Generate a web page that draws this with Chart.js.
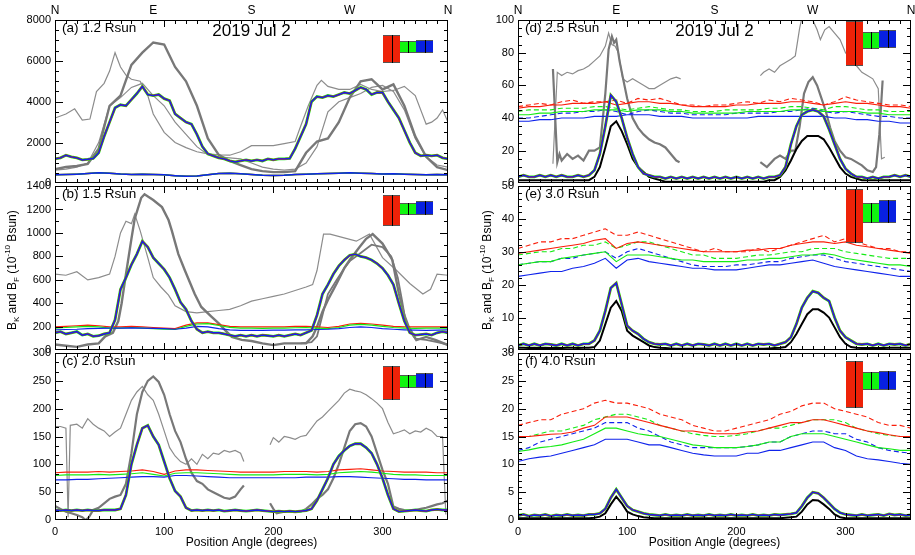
<!DOCTYPE html>
<html>
<head>
<meta charset="utf-8">
<script src="https://cdn.jsdelivr.net/npm/chart.js@4.4.1/dist/chart.umd.min.js"></script>
<style>
  body { margin: 0; background: #fff; width: 915px; height: 555px; position: relative; overflow: hidden; }
  canvas { position: absolute; }
</style>
</head>
<body>
<script>
// ---------- angle grids ----------
const SIG_ANG = Array.from({ length: 73 }, (_, i) => i * 5);
const BASE_ANG = Array.from({ length: 37 }, (_, i) => i * 10);
const COMPASS = ['N', 'E', 'S', 'W', 'N'];
const COMPASS_ANG = [0, 90, 180, 270, 360];
const DATE_LABEL = '2019 Jul 2';
const PANEL_LABELS = ['(a) 1.2 Rsun', '(b) 1.5 Rsun', '(c) 2.0 Rsun', '(d) 2.5 Rsun', '(e) 3.0 Rsun', '(f) 4.0 Rsun'];
const Y_MAX = [8000, 1400, 300, 100, 50, 30];
const Y_STEP = [2000, 200, 50, 20, 10, 5];

// ---------- (a) 1.2 Rsun ----------
const aSig = [1200,1250,1380,1300,1250,1150,1180,1220,1500,2300,3000,3700,3850,3800,4100,4400,4750,4350,4300,4350,
  4150,4050,3400,3200,3000,2900,2400,1800,1450,1350,1250,1200,1100,1050,1100,1150,1100,1150,1100,1200,
  1150,1200,1200,1220,1700,2300,2900,4000,4250,4200,4300,4250,4350,4450,4400,4550,4700,4600,4350,4450,
  4450,4000,3600,3200,2600,2000,1500,1350,1380,1350,1380,1250,1200];
const aBase = [420,430,450,480,520,500,460,440,450,430,420,380,350,360,420,480,500,470,430,400,
  390,400,430,450,470,480,500,520,500,480,460,470,450,430,420,430,420];
const aThick = [700,800,850,950,1700,3800,4300,5800,6400,6900,6800,5700,5000,3800,2200,1400,1100,900,700,600,
  550,550,600,1500,2050,2200,3000,4200,5000,5100,4600,4850,3800,2300,1300,800,650];
const aThinAAng = [0,10,18,25,32,38,45,50,55,60,65,70,78,85,90,100,110,120,130,140,150,160,170,180,190,200,210,220,225,232,
  240,244,250,260,270,280,290,300,310,320,330,340,345,350,355,360];
const aThinA = [3200,3400,3650,3100,3150,4500,4900,5500,6400,5700,5300,5100,5000,4300,3400,2500,2000,1750,1550,1450,
  1400,1380,1550,1850,1850,1850,1950,2050,2800,3800,4800,5050,4750,4600,4600,4850,4600,4500,4550,4750,
  4300,2900,3000,3200,3600,3000];
const aThinB = [650,700,800,1000,2000,3800,4200,4700,4900,4300,3800,3000,2400,1800,1400,1300,1250,1200,1000,800,
  700,650,700,1000,1800,3500,4000,4200,4400,4700,4800,4500,3600,2200,1300,900,800];

// ---------- (b) 1.5 Rsun ----------
const bSig = [150,160,140,150,160,130,140,120,125,140,150,260,520,620,730,820,930,880,790,740,
  690,620,520,410,350,250,180,150,160,150,150,140,130,120,130,120,130,120,130,125,
  120,130,120,130,140,130,150,170,300,480,560,650,720,770,810,820,800,790,770,740,
  700,640,560,400,250,150,130,135,140,130,150,160,150];
const bRed = [200,205,210,215,210,200,200,205,200,195,190,185,215,235,235,220,205,200,200,200,
  200,200,205,205,200,195,205,225,230,225,215,205,200,200,200,200,200];
const bGreen = [190,195,200,205,200,190,190,195,190,185,180,178,205,225,228,212,196,190,190,188,
  190,190,193,195,190,186,195,215,222,215,205,195,190,188,190,190,190];
const bBlue = [175,178,180,185,188,190,190,192,190,188,185,180,190,205,200,185,175,170,170,170,
  172,172,175,175,178,180,185,195,200,195,185,180,175,172,170,172,175];
const bThickAng = [0,10,20,30,40,46,53,58,61,65,70,73,79,82,90,98,104,107,113,119,128,134,143,150,156,162,171,180,190,200,
  210,220,230,236,240,245,250,258,265,270,279,285,291,300,309,315,320,324,331,340,349,360];
const bThick = [50,40,30,50,60,120,150,250,400,650,950,1120,1300,1330,1280,1220,1110,1020,820,680,
  480,370,290,230,170,115,90,80,60,45,60,60,60,120,200,330,430,570,700,770,
  880,950,990,910,770,485,300,200,88,115,88,45];
const bThinAAng = [0,10,20,30,40,50,55,60,65,70,73,78,85,90,97,104,110,120,130,140,150,160,170,180,190,200,210,220,230,236,
  240,246,252,264,276,288,300,313,325,337,344,350,360];
const bThinA = [650,640,670,600,620,650,800,1000,1100,1080,1160,1020,790,620,540,470,380,330,320,330,
  340,350,380,420,440,460,480,510,540,560,680,990,990,960,930,990,790,680,570,480,
  520,650,640];
const bThinBAng = [225,235,240,245,250,258,265,270,280,290,300,308,314,318,322,330,340,350,360];
const bThinB = [60,70,120,300,480,600,700,760,830,900,880,800,620,420,200,100,90,70,50];

// ---------- (c) 2.0 Rsun ----------
const cSig = [18,17,18,17,18,17,18,17,17,18,18,18,20,45,100,135,165,170,150,135,
  105,75,52,42,22,17,18,17,18,17,18,16,17,18,17,16,17,18,17,16,
  15,16,15,16,15,16,17,20,35,55,75,100,115,125,133,137,137,130,120,100,
  75,45,20,15,16,17,18,17,16,18,19,18,18];
const cRed = [85,86,86,86,87,86,87,88,90,87,82,88,90,90,89,88,87,86,86,86,
  86,87,87,87,86,87,90,91,92,90,88,87,86,86,86,85,85];
const cGreen = [80,81,81,81,82,81,82,83,85,82,79,84,85,85,84,83,82,81,81,81,
  81,82,82,82,81,82,85,86,87,86,84,82,81,81,80,80,80];
const cBlue = [72,72,73,73,74,75,76,77,78,78,77,80,80,79,78,77,76,76,76,76,
  76,76,76,77,77,77,78,78,77,76,75,74,73,73,72,72,72];
const cEastAng = [0,5,10,12,14,20,25,30,35,40,45,50,55,60,65,70,75,80,85,90,95,100,105,110,115,120,125,130,135,140,145,150,155,160,165,170,173];
const cThinE = [168,168,165,5,170,172,165,182,172,165,160,150,158,165,190,215,230,240,225,215,
  190,160,130,115,105,100,110,100,118,110,120,118,125,122,125,120,105];
const cThickEAng = [0,5,10,15,20,25,28,31,35,40,45,50,55,60,65,70,75,80,85,90,95,100,105,110,115,120,125,130,135,140,145,150,155,160,165,170,173];
const cThickE = [25,20,15,12,9,5,0,5,18,22,30,38,42,45,65,120,190,230,250,258,
  248,225,190,160,140,110,85,70,65,55,50,45,40,38,42,55,62];
const cThinWAng = [197,200,205,210,215,220,225,230,235,240,245,250,255,260,265,270,275,280,285,290,295,300,305,310,315,320,325,330,335,340,345,350,355,358];
const cThinW = [135,148,140,150,148,145,150,152,165,178,185,195,205,215,228,235,232,230,225,218,
  210,200,175,155,158,162,155,160,158,165,160,150,150,10];
const cThickWAng = [197,200,203,210,215,220,225,230,235,240,245,250,255,260,265,270,275,280,285,290,295,300,305,310,315,320,325,330,335,340,345,350,355,360];
const cThickW = [30,20,12,15,15,14,15,20,28,38,45,55,75,100,130,160,172,174,168,150,
  120,90,65,24,20,18,17,18,20,22,25,28,30,35];

// ---------- (d) 2.5 Rsun ----------
const dSig = [4,5,4,4,5,4,5,4,5,4,4,5,4,5,8,18,35,54,50,40,
  28,18,10,6,5,4,4,3,4,3,4,3,4,3,4,3,4,3,4,3,
  4,3,4,3,4,3,4,4,5,10,24,35,42,44,45,44,41,33,24,15,
  9,6,4,4,3,4,3,4,4,5,4,5,4];
const dBlack = [2,2,2,2,2,2,2,2,2,2,2,2,2,2,4,10,22,35,38,32,
  24,15,10,7,4,3,2,1,1,1,1,1,1,1,1,1,1,1,1,1,
  1,1,1,1,1,1,2,2,4,8,14,21,26,29,29,29,27,22,16,10,
  6,4,3,2,2,2,2,2,2,2,2,2,2];
const dRedD = [47,48,49,48,50,51,49,50,50,51,49,52,51,52,50,48,48,47,48,48,
  49,50,49,51,50,52,51,50,48,50,53,51,50,49,48,48,47];
const dRedS = [46,47,47,48,48,49,49,49,50,48,49,50,50,49,49,48,47,47,47,47,
  48,48,49,49,49,50,50,49,48,49,50,49,49,48,47,47,46];
const dGreenD = [44,45,45,45,46,46,46,47,47,46,45,46,47,46,45,45,44,44,44,45,
  45,45,45,46,46,47,47,46,45,47,47,46,45,45,44,44,44];
const dGreenS = [42,42,43,43,44,44,44,45,45,45,44,45,45,45,44,44,43,43,43,43,
  43,44,44,44,44,45,45,45,44,44,44,44,43,43,42,42,42];
const dBlueD = [40,40,41,42,43,43,44,44,45,44,42,44,45,44,43,43,42,42,42,42,
  43,43,43,43,44,44,45,46,44,43,44,43,42,41,41,40,40];
const dBlueS = [38,38,39,39,40,40,40,41,41,41,42,42,42,41,41,41,40,40,40,40,
  40,40,41,41,41,41,41,41,41,40,40,39,39,38,38,37,37];
const dThickEAng = [32,36,38,40,45,50,55,60,65,70,75,80,83,86,88,90,93,96,100,105,110,115,120,125,130,135,140,145,148];
const dThickE = [70,13,18,14,18,15,17,14,20,20,22,55,82,90,86,88,75,65,52,40,34,30,27,25,24,22,18,14,13];
const dThinEAng = [32,36,40,45,50,55,60,65,70,75,80,83,86,89,92,96,100,105,110,115,120,125,130,135,140,145,149];
const dThinE = [12,68,66,68,67,69,70,72,75,78,84,92,85,84,80,64,62,64,62,60,58,58,60,62,64,65,64];
const dThinWAng = [222,225,230,235,240,245,250,254,258,261,265,270,274,277,281,285,290,295,300,305,310,315,320,325,330,333,336];
const dThinW = [66,68,70,68,72,74,76,78,95,104,104,100,94,88,94,96,92,88,80,76,72,68,66,64,58,15,16];
const dThickWAng = [222,228,235,240,245,250,254,258,262,266,270,274,278,282,286,290,295,300,305,310,315,320,325,328,331,334];
const dThickW = [13,10,15,17,15,20,20,35,55,62,65,60,52,44,34,26,20,16,15,13,11,8,7,10,30,63];

// ---------- (e) 3.0 Rsun ----------
const eSig = [1.5,2,1.5,2,1.5,2,1.8,1.5,2,1.5,2,1.5,2,2,3,6,12,19,20.5,14,
  7.5,6,5,3.5,2.5,2,1.8,2,1.5,2,1.5,2,1.5,2,1.8,1.5,2,1.5,2,1.5,
  2,1.5,2,1.5,2,1.8,2,1.5,2,2.5,4,8,13,16,18,17.5,16,15,10,6,
  4,3,2,1.8,2,1.5,2,1.5,2,1.8,2,1.5,2];
const eBlack = [0.8,0.8,0.7,0.8,0.7,0.8,0.7,0.8,0.7,0.8,0.8,0.7,0.8,0.8,1,3,8,13,15,12,
  6,4.5,3.5,2.5,1.5,1,0.8,0.7,0.6,0.5,0.5,0.5,0.5,0.5,0.5,0.5,0.5,0.5,0.5,0.5,
  0.5,0.5,0.5,0.5,0.5,0.5,0.6,0.7,0.8,1,2.5,5,8,11,12.5,12.5,11.5,10,7,4,
  2,1,0.8,0.7,0.7,0.7,0.7,0.7,0.8,0.8,0.8,0.8,0.8];
const eRedD = [31,32,33,33,34,34,35,36,37,35,35,36,35,34,33,32,31,30,31,30,
  30,30,31,30,31,32,33,34,35,33,34,33,32,31,31,30,30];
const eRedS = [29.5,30,30.5,31,31.5,32,32.5,33.5,34,31,32.5,33,32.5,32,31.5,31,30.5,30,30,30,
  30,30.5,30.5,31,31,32,32.5,33,33,32.5,33,32,31.5,31,30.5,30,29.5];
const eGreenD = [29,29.5,30,30,31,31,32,32,33,31,32,33,33,32,31,30,29,29,28,28,
  28,28.5,29,29,29.5,30,30,31,31,31,30,29.5,29,28.5,28,28,28];
const eGreenS = [26,26.5,27,27,28,28.5,29,29.5,30,27,29,29,29,28.5,28,27.5,27.5,27,27,27,
  27,27.5,27.5,28,28,28.5,29,29,29.5,29,28,27.5,27,26.5,26,26,25.5];
const eBlueD = [26,26.5,27,27,28,28,29,29.5,30,28,30,31,30,29,28,27,26,25.5,25.5,25.5,
  26,26,26.5,27,27,28,28.5,29,29,28,27,26.5,26,25.5,25,24.5,24];
const eBlueS = [22.5,23,23.5,24,24,25,25.5,26.5,28,25,27.5,28,27,26.5,26,25.5,25,25,24.5,24.5,
  24.5,25,25.5,26,26,26.5,27,27.5,26.5,25.5,25,24.5,24,23.5,23,22.5,22.5];

// ---------- (f) 4.0 Rsun ----------
const fSig = [0.8,1,0.7,0.9,0.8,1,0.7,0.9,0.8,1,0.8,0.9,0.8,1,1,1.2,2,4,5.5,4,
  2.5,1.8,1.5,1.2,1,0.9,0.8,1,0.8,0.9,0.8,1,0.8,0.9,0.8,1,0.8,0.9,0.8,1,
  0.8,0.9,0.8,1,0.8,0.9,0.8,1,0.9,1,1.1,1.3,2.5,4,5,4.8,4,3,2,1.3,
  1,0.9,0.8,1,0.8,0.9,1,0.8,1.1,0.9,1,0.8,0.9];
const fBlack = [0.3,0.3,0.3,0.3,0.3,0.3,0.3,0.3,0.3,0.3,0.3,0.3,0.3,0.3,0.4,0.6,1.2,2.8,4.2,3,
  1.5,1,0.7,0.5,0.4,0.3,0.3,0.3,0.3,0.3,0.3,0.3,0.3,0.3,0.3,0.3,0.3,0.3,0.3,0.3,
  0.3,0.3,0.3,0.3,0.3,0.3,0.3,0.3,0.3,0.4,0.5,0.6,1.5,2.8,3.6,3.5,2.8,2,1,0.5,
  0.3,0.3,0.3,0.3,0.3,0.3,0.3,0.3,0.3,0.3,0.3,0.3,0.3];
const fRedD = [17,17.5,18,18,19,19.5,20,21,21.5,21,21,20.5,20,19,18.5,18,17,16.5,16,16,
  16.5,17,17.5,18,19,19.5,20.5,21,21,20,19.5,19,18.5,17.5,17,17,16.5];
const fRedS = [15,15,15.2,15.4,15.5,15.8,16.5,17,18.5,18.5,18.5,18,17.5,17,16.5,16,16,15.7,15.5,15.5,
  15.5,15.8,16,16.5,17,17.5,17.5,18,18,17.5,17,16.5,16,15.7,15.3,15,15];
const fGreenD = [15,15,15.5,16,16,16.5,17,18,18.5,19,19,18.5,18,17,16.5,16,15.5,15.2,15,15,
  15.2,15.5,16,16.5,16.5,17,17.5,18,18,18,17.5,16.5,16,15.5,15.2,15,15];
const fGreenS = [12.3,12.6,13,13.2,13.5,14,14.5,15.5,16.5,16.5,16,15.5,15.2,15,14.5,14,13.5,13.3,13,13,
  13,13.2,13.5,14,14,15,15.5,15.5,15.5,15,14.5,14,13.5,13,12.8,12.5,12.5];
const fBlueD = [12.5,13,14,14.5,15,15.5,16,16.5,17.5,17.5,17.5,16.5,16,15,14,13.5,13,13,13,13,
  13,13.2,13.5,14,14,15,15.5,16,16,15.5,15.5,14.5,14,13,12.5,12.2,12];
const fBlueS = [10.5,11,11.3,11.5,12,12.5,13,13.5,14.5,14.5,14.5,14,13.5,13.5,13,12.5,12,11.7,11.5,11.5,
  11.5,12,12,12.5,12.5,13,13.5,14,14,13,12.5,11.5,11,10.8,10.5,10.2,10];

// ---------- styles ----------
const FONT = '"Liberation Sans", Arial, Helvetica, sans-serif';
const RED = 'rgb(250,30,10)', GREEN = 'rgb(20,235,20)', BLUE = 'rgb(15,35,235)';
const GRAY_THIN = 'rgb(140,140,140)', GRAY_THICK = 'rgb(120,120,120)';
const DASH = [5, 3];
Chart.defaults.font.family = FONT;

function pts(ang, vals) { return vals.map((v, i) => ({ x: ang[i], y: v })); }
function ln(data, color, width, dash) {
  return { data, borderColor: color, borderWidth: width, borderDash: dash || [], pointRadius: 0, fill: false, tension: 0 };
}
function signal(vals) {
  return [ln(pts(SIG_ANG, vals), GREEN, 2.8), ln(pts(SIG_ANG, vals), RED, 1.8), ln(pts(SIG_ANG, vals), BLUE, 1.4)];
}
function bases(r, g, b, w, dash) {
  return [ln(pts(BASE_ANG, r), RED, w, dash), ln(pts(BASE_ANG, g), GREEN, w, dash), ln(pts(BASE_ANG, b), BLUE, w, dash)];
}

// panel layout (pixels) and box sizes (px from top of plot)
const PANELS = [
  { x0: 55, y0: 20, h: 166, minor: 500, top: true, ytitle: false, xaxis: false, boxes: [[15, 43], [21, 33], [20, 33]],
    sets: [ln(pts(aThinAAng, aThinA), GRAY_THIN, 1.2), ln(pts(BASE_ANG, aThinB), GRAY_THIN, 1.2), ln(pts(BASE_ANG, aThick), GRAY_THICK, 2.4),
      ...bases(aBase, aBase, aBase, 1.5), ...signal(aSig)] },
  { x0: 55, y0: 186, h: 167, minor: 100, top: false, ytitle: true, xaxis: false, boxes: [[9, 40], [17, 29], [15, 29]],
    sets: [ln(pts(bThinAAng, bThinA), GRAY_THIN, 1.2), ln(pts(bThinBAng, bThinB), GRAY_THICK, 1.8), ln(pts(bThickAng, bThick), GRAY_THICK, 2.4),
      ...bases(bRed, bGreen, bBlue, 1.2), ...signal(bSig)] },
  { x0: 55, y0: 353, h: 167, minor: 50 / 3, top: false, ytitle: false, xaxis: true, boxes: [[13, 47], [22, 35], [20, 35]],
    sets: [ln(pts(cEastAng, cThinE), GRAY_THIN, 1.2), ln(pts(cThinWAng, cThinW), GRAY_THIN, 1.2),
      ln(pts(cThickEAng, cThickE), GRAY_THICK, 2.2), ln(pts(cThickWAng, cThickW), GRAY_THICK, 2.2),
      ...bases(cRed, cGreen, cBlue, 1.1), ...signal(cSig)] },
  { x0: 518, y0: 20, h: 166, minor: 5, top: true, ytitle: false, xaxis: false, boxes: [[1, 46], [12, 29], [10, 28]],
    sets: [ln(pts(dThinEAng, dThinE), GRAY_THIN, 1.2), ln(pts(dThinWAng, dThinW), GRAY_THIN, 1.2),
      ln(pts(dThickEAng, dThickE), GRAY_THICK, 2.2), ln(pts(dThickWAng, dThickW), GRAY_THICK, 2.2),
      ...bases(dRedD, dGreenD, dBlueD, 1.1, DASH), ...bases(dRedS, dGreenS, dBlueS, 1.1),
      ln(pts(SIG_ANG, dBlack), '#000', 2), ...signal(dSig)] },
  { x0: 518, y0: 186, h: 167, minor: 2, top: false, ytitle: true, xaxis: false, boxes: [[3, 57], [17, 37], [14, 37]],
    sets: [...bases(eRedD, eGreenD, eBlueD, 1.1, DASH), ...bases(eRedS, eGreenS, eBlueS, 1.1),
      ln(pts(SIG_ANG, eBlack), '#000', 2), ...signal(eSig)] },
  { x0: 518, y0: 353, h: 167, minor: 1, top: false, ytitle: false, xaxis: true, boxes: [[8, 55], [19, 37], [18, 37]],
    sets: [...bases(fRedD, fGreenD, fBlueD, 1.1, DASH), ...bases(fRedS, fGreenS, fBlueS, 1.1),
      ln(pts(SIG_ANG, fBlack), '#000', 2), ...signal(fSig)] }
];
const BOX_X = [0.835, 0.878, 0.918, 0.961];
const BOX_FILL = ['rgb(238,34,8)', 'rgb(16,245,16)', 'rgb(8,32,225)'];

function drawYTitle(ctx, cx, cy) {
  const parts = [['B', 0], ['K', 1], [' and B', 0], ['F', 1], [' (10', 0], ['-10', 2], [' Bsun)', 0]];
  const big = '12px ' + FONT, small = '8px ' + FONT;
  let total = 0;
  parts.forEach(([t, k]) => { ctx.font = k ? small : big; total += ctx.measureText(t).width; });
  ctx.save();
  ctx.translate(cx, cy);
  ctx.rotate(-Math.PI / 2);
  ctx.fillStyle = '#000';
  ctx.textBaseline = 'middle';
  ctx.textAlign = 'left';
  let xx = -total / 2;
  parts.forEach(([t, k]) => {
    ctx.font = k ? small : big;
    const dy = k === 1 ? 4 : (k === 2 ? -5 : 0);
    ctx.fillText(t, xx, dy);
    xx += ctx.measureText(t).width;
  });
  ctx.restore();
}

PANELS.forEach((p, idx) => {
  const W = 55 + 393 + 4;
  const H = 20 + p.h + (p.xaxis ? 30 : 8);
  const cv = document.createElement('canvas');
  cv.width = W; cv.height = H;
  cv.style.left = (p.x0 - 55) + 'px';
  cv.style.top = (p.y0 - 20) + 'px';
  cv.style.width = W + 'px'; cv.style.height = H + 'px';
  document.body.appendChild(cv);

  const n = p.sets.length;
  p.sets.forEach((d, i) => { d.order = n - i; });

  const deco = {
    id: 'deco' + idx,
    afterDraw(chart) {
      const { ctx, chartArea: a, scales: { x, y } } = chart;
      const L = Math.round(a.left), R = Math.round(a.right), T = Math.round(a.top), B = Math.round(a.bottom);
      ctx.save();
      ctx.setLineDash([]);
      ctx.globalAlpha = 1;
      ctx.globalCompositeOperation = 'source-over';
      ctx.fillStyle = '#000';
      // frame
      ctx.fillRect(L, T, R - L, 1);
      ctx.fillRect(L, B - 1, R - L, 1);
      ctx.fillRect(L, T, 1, B - T);
      ctx.fillRect(R - 1, T, 1, B - T);
      // inward ticks
      for (let v = 0; v <= 360; v += 10) {
        const px = Math.min(R - 1, Math.round(x.getPixelForValue(v)));
        const len = v % 100 === 0 ? 7 : 4;
        ctx.fillRect(px, B - len, 1, len);
        ctx.fillRect(px, T, 1, len);
      }
      const ymax = Y_MAX[idx], major = Y_STEP[idx];
      const cnt = Math.round(ymax / p.minor);
      for (let i = 0; i <= cnt; i++) {
        const v = i * p.minor;
        const r = v / major;
        const len = Math.abs(r - Math.round(r)) < 1e-6 ? 8 : 4;
        const py = Math.min(B - 1, Math.round(y.getPixelForValue(v)));
        ctx.fillRect(L, py, len, 1);
        ctx.fillRect(R - len, py, len, 1);
      }

      ctx.textBaseline = 'middle';
      ctx.textAlign = 'left';
      ctx.font = '13.5px ' + FONT;
      ctx.fillText(PANEL_LABELS[idx], a.left + 7, a.top + 8);

      if (p.top) {
        ctx.textAlign = 'center';
        ctx.font = '12px ' + FONT;
        COMPASS.forEach((t, i) => ctx.fillText(t, x.getPixelForValue(COMPASS_ANG[i]), a.top - 9));
        ctx.font = '17px ' + FONT;
        ctx.fillText(DATE_LABEL, x.getPixelForValue(180), a.top + 11);
      }

      // filter boxes
      const w = a.right - a.left;
      p.boxes.forEach(([t, b], i) => {
        const l = Math.round(a.left + BOX_X[i] * w), r = Math.round(a.left + BOX_X[i + 1] * w);
        const top = T + t, bot = T + b;
        ctx.fillStyle = BOX_FILL[i];
        ctx.fillRect(l, top, r - l, bot - top);
        ctx.fillStyle = '#555';
        ctx.fillRect(l, top, r - l, 1);
        ctx.fillRect(l, bot - 1, r - l, 1);
        ctx.fillStyle = '#000';
        ctx.fillRect(Math.round((l + r) / 2), top, 1, bot - top);
      });

      if (p.ytitle) drawYTitle(ctx, a.left - (idx < 3 ? 42 : 30), (a.top + a.bottom) / 2 + 2);
      ctx.restore();
    }
  };

  new Chart(cv, {
    type: 'line',
    data: { datasets: p.sets },
    options: {
      responsive: false,
      animation: false,
      devicePixelRatio: 1,
      layout: { padding: { top: 20, right: 4, left: 0, bottom: p.xaxis ? 0 : 8 } },
      plugins: { legend: { display: false }, tooltip: { enabled: false } },
      scales: {
        x: {
          type: 'linear', min: 0, max: 360, display: p.xaxis,
          grid: { display: false, drawTicks: false }, border: { display: false },
          ticks: { stepSize: 100, includeBounds: false, padding: 5, color: '#000', font: { size: 11 }, maxRotation: 0,
            callback: v => String(v) },
          title: { display: p.xaxis, text: 'Position Angle (degrees)', color: '#000', font: { size: 12 }, padding: 0 },
          afterFit(s) { s.height = p.xaxis ? 30 : 0; }
        },
        y: {
          type: 'linear', min: 0, max: Y_MAX[idx],
          grid: { display: false, drawTicks: false }, border: { display: false },
          ticks: { stepSize: Y_STEP[idx], padding: 4, color: '#000', font: { size: 11 }, callback: v => String(v) },
          afterFit(s) { s.width = 55; }
        }
      }
    },
    plugins: [deco]
  });
});
</script>
</body>
</html>
